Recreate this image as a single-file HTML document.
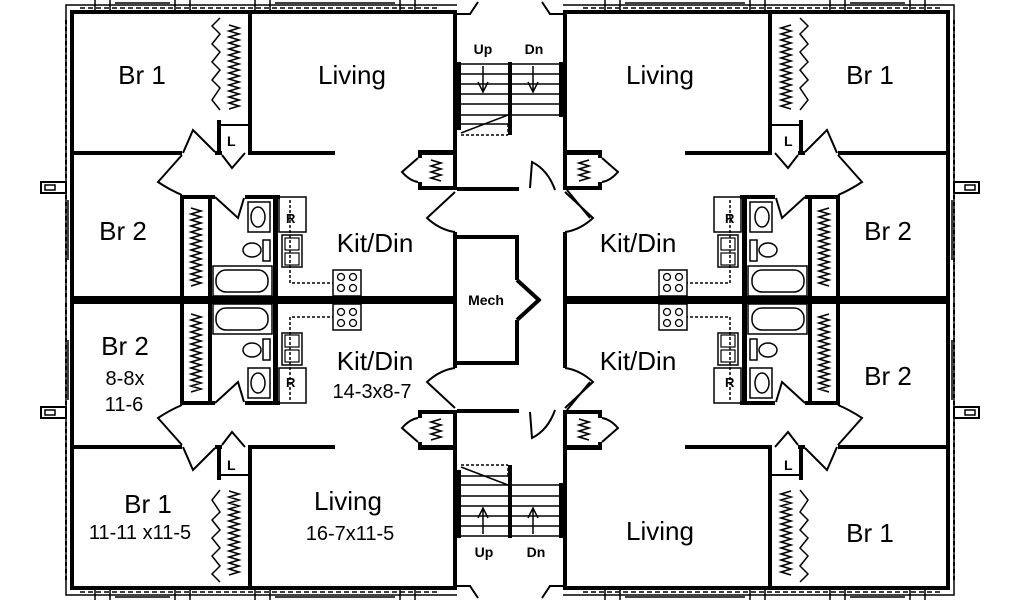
<!DOCTYPE html>
<html><head><meta charset="utf-8"><style>
html,body{margin:0;padding:0;background:#fff;width:1024px;height:600px;overflow:hidden}
svg{display:block}
text{font-family:"Liberation Sans",sans-serif;fill:#000}
</style></head><body>
<svg width="1024" height="600" viewBox="0 0 1024 600" xmlns="http://www.w3.org/2000/svg">
<defs>
<g id="q" fill="none" stroke="#000">
  <rect x="70" y="10" width="4" height="292" fill="#000" stroke="none"/>
  <rect x="70" y="10" width="387" height="4" fill="#000" stroke="none"/>
  <path d="M66 300 V5 H457" stroke-width="1.5"/>
  <path d="M66 20 V300" stroke-width="2" stroke-dasharray="4 3"/>
  <path d="M80 8 H440" stroke-width="1.5" stroke-dasharray="5 3"/>
  <path d="M95 0 V10 M110 0 V10 M175 0 V10 M190 0 V10 M255 0 V10 M270 0 V10 M400 0 V10 M415 0 V10" stroke-width="1.5"/>
  <path d="M115 3 H170 M275 3 H395" stroke-width="1.5"/>
  <rect x="41" y="182" width="25" height="11" stroke-width="2"/>
  <rect x="45" y="185" width="10" height="5" stroke-width="1.5"/>
  <path d="M68 200 V260" stroke-width="1.5"/>
  <rect x="248" y="14" width="4" height="138" fill="#000" stroke="none"/>
  <rect x="217" y="120" width="4" height="35" fill="#000" stroke="none"/>
  <path d="M221 125 H248" stroke-width="2"/>
  <path d="M220 18 L212 26 L220 34 L212 44 L220 52 L212 62 L220 70 L212 80 L220 88 L212 100 L220 110" stroke-width="1.5"/>
  <path d="M229 25 L239 28 L229 31 L239 34 L229 37 L239 40 L229 43 L239 46 L229 49 L239 52 L229 55 L239 58 L229 61 L239 64 L229 67 L239 70 L229 73 L239 76 L229 79 L239 82 L229 85 L239 88 L229 91 L239 94 L229 97 L239 100 L229 103 L239 106 L229 109" stroke-width="1.6"/>
  <rect x="74" y="151" width="108" height="4" fill="#000" stroke="none"/>
  <rect x="215" y="151" width="7" height="4" fill="#000" stroke="none"/>
  <rect x="248" y="151" width="87" height="4" fill="#000" stroke="none"/>
  <path d="M183 153 L193 130 L215 152" stroke-width="2"/>
  <path d="M222 155 L232 168 L245 153" stroke-width="2"/>
  <path d="M182 155 L158 182 Q170 190 182 195" stroke-width="2"/>
  <path d="M215 197 L238 218 L244 198" stroke-width="2"/>
  <rect x="180" y="195" width="4" height="105" fill="#000" stroke="none"/>
  <rect x="208" y="195" width="4" height="105" fill="#000" stroke="none"/>
  <rect x="180" y="195" width="35" height="4" fill="#000" stroke="none"/>
  <rect x="245" y="195" width="35" height="4" fill="#000" stroke="none"/>
  <rect x="273" y="195" width="5" height="105" fill="#000" stroke="none"/>
  <path d="M191 208 L201 211 L191 214 L201 217 L191 220 L201 223 L191 226 L201 229 L191 232 L201 235 L191 238 L201 241 L191 244 L201 247 L191 250 L201 253 L191 256 L201 259 L191 262 L201 265 L191 268 L201 271 L191 274 L201 277 L191 280 L201 283 L191 286" stroke-width="1.6"/>
  <rect x="248" y="202" width="22" height="30" stroke-width="1.5"/>
  <ellipse cx="258" cy="217" rx="7" ry="10" stroke-width="1.5"/>
  <ellipse cx="252" cy="250" rx="9" ry="7" stroke-width="1.5"/>
  <rect x="263" y="240" width="7" height="21" stroke-width="1.5"/>
  <rect x="213" y="266" width="59" height="30" stroke-width="1.5"/>
  <rect x="216" y="270" width="52" height="22" rx="10" stroke-width="1.5"/>
  <rect x="279" y="197" width="27" height="35" stroke-width="1.5"/>
  <rect x="282" y="235" width="20" height="32" stroke-width="1.5"/>
  <rect x="285" y="238" width="14" height="12" stroke-width="1.2"/>
  <rect x="285" y="253" width="14" height="12" stroke-width="1.2"/>
  <path d="M290 200 V283 H333" stroke-width="1.5" stroke-dasharray="3 2"/>
  <rect x="333" y="270" width="28" height="26" stroke-width="1.5"/>
  <circle cx="341" cy="277" r="3.5" stroke-width="1.3"/><circle cx="353" cy="277" r="3.5" stroke-width="1.3"/>
  <circle cx="341" cy="288" r="3.5" stroke-width="1.3"/><circle cx="353" cy="288" r="3.5" stroke-width="1.3"/>
  <rect x="70" y="296" width="387" height="4" fill="#000" stroke="none"/>
  <rect x="453" y="14" width="4" height="176" fill="#000" stroke="none"/>
  <rect x="418" y="150" width="39" height="5" fill="#000" stroke="none"/>
  <rect x="418" y="186" width="39" height="4" fill="#000" stroke="none"/>
  <rect x="418" y="150" width="4" height="8" fill="#000" stroke="none"/>
  <rect x="418" y="182" width="4" height="8" fill="#000" stroke="none"/>
  <path d="M418 158 L402 172 Q410 181 418 182" stroke-width="2"/>
  <path d="M431 160 L441 163 L431 166 L441 169 L431 172 L441 175 L431 178 L441 181" stroke-width="1.6"/>
  <rect x="453" y="232" width="4" height="68" fill="#000" stroke="none"/>
  <path d="M455 192 L427 218 Q440 230 455 232" stroke-width="2"/>
</g>
<g id="stair" fill="none" stroke="#000">
  <rect x="457" y="187" width="62" height="4" fill="#000" stroke="none"/>
  <rect x="457" y="62" width="4" height="68" fill="#000" stroke="none"/>
  <rect x="508" y="62" width="4" height="73" fill="#000" stroke="none"/>
  <rect x="559" y="62" width="4" height="55" fill="#000" stroke="none"/>
  <path d="M461 64 H559 M461 74 H559 M461 84 H559 M461 94 H559 M461 104 H559 M461 115 H559 M461 124 H508" stroke-width="1.5"/>
  <path d="M461 135 H508 M508 124 V135" stroke-width="1.5" stroke-dasharray="3 2"/>
  <path d="M461 133 L508 115" stroke-width="1.5"/>
  <path d="M483 66 V92 M478 82 L483 92 L488 82 M533 66 V92 M528 82 L533 92 L538 82" stroke-width="1.5"/>
  <path d="M530 188 L532 162 Q548 170 555 190" stroke-width="2"/>
  <path d="M567 190 L590 218" stroke-width="2"/>
  <path d="M457 14 H470 L478 2 M563 14 H550 L542 2" stroke-width="2"/>
  <rect x="457" y="235" width="62" height="4" fill="#000" stroke="none"/>
  <rect x="515" y="235" width="4" height="45" fill="#000" stroke="none"/>
  <path d="M517 280 L540 301" stroke-width="4"/>
</g>
</defs>
<use href="#q"/>
<use href="#q" transform="translate(1020,0) scale(-1,1)"/>
<use href="#q" transform="translate(0,600) scale(1,-1)"/>
<use href="#q" transform="translate(1020,600) scale(-1,-1)"/>
<use href="#stair"/>
<use href="#stair" transform="translate(0,600) scale(1,-1)"/>
<rect x="563" y="14" width="4" height="176" fill="#000"/>
<rect x="563" y="410" width="4" height="176" fill="#000"/>

<g font-size="14" font-weight="bold">
<text x="227" y="146">L</text>
<text x="784" y="146">L</text>
<text x="227" y="470">L</text>
<text x="784" y="470">L</text>
<text x="286" y="223" font-size="13">R</text>
<text x="725" y="223" font-size="13">R</text>
<text x="286" y="387" font-size="13">R</text>
<text x="725" y="387" font-size="13">R</text>
</g>
<g font-size="26">
<text x="142" y="84" text-anchor="middle">Br 1</text>
<text x="352" y="84" text-anchor="middle">Living</text>
<text x="123" y="240" text-anchor="middle">Br 2</text>
<text x="375" y="252" text-anchor="middle">Kit/Din</text>
<text x="660" y="84" text-anchor="middle">Living</text>
<text x="870" y="84" text-anchor="middle">Br 1</text>
<text x="638" y="252" text-anchor="middle">Kit/Din</text>
<text x="888" y="240" text-anchor="middle">Br 2</text>
<text x="125" y="355" text-anchor="middle">Br 2</text>
<text x="375" y="370" text-anchor="middle">Kit/Din</text>
<text x="148" y="513" text-anchor="middle">Br 1</text>
<text x="348" y="510" text-anchor="middle">Living</text>
<text x="638" y="370" text-anchor="middle">Kit/Din</text>
<text x="888" y="385" text-anchor="middle">Br 2</text>
<text x="660" y="540" text-anchor="middle">Living</text>
<text x="870" y="542" text-anchor="middle">Br 1</text>
</g>
<g font-size="20">
<text x="125" y="385" text-anchor="middle">8-8x</text>
<text x="124" y="411" text-anchor="middle">11-6</text>
<text x="372" y="398" text-anchor="middle">14-3x8-7</text>
<text x="140" y="539" text-anchor="middle">11-11 x11-5</text>
<text x="350" y="540" text-anchor="middle">16-7x11-5</text>
</g>
<g font-size="14" font-weight="bold">
<text x="483" y="54" text-anchor="middle">Up</text>
<text x="534" y="54" text-anchor="middle">Dn</text>
<text x="484" y="557" text-anchor="middle">Up</text>
<text x="536" y="557" text-anchor="middle">Dn</text>
<text x="486" y="305" text-anchor="middle">Mech</text>
</g>
</svg>
</body></html>
